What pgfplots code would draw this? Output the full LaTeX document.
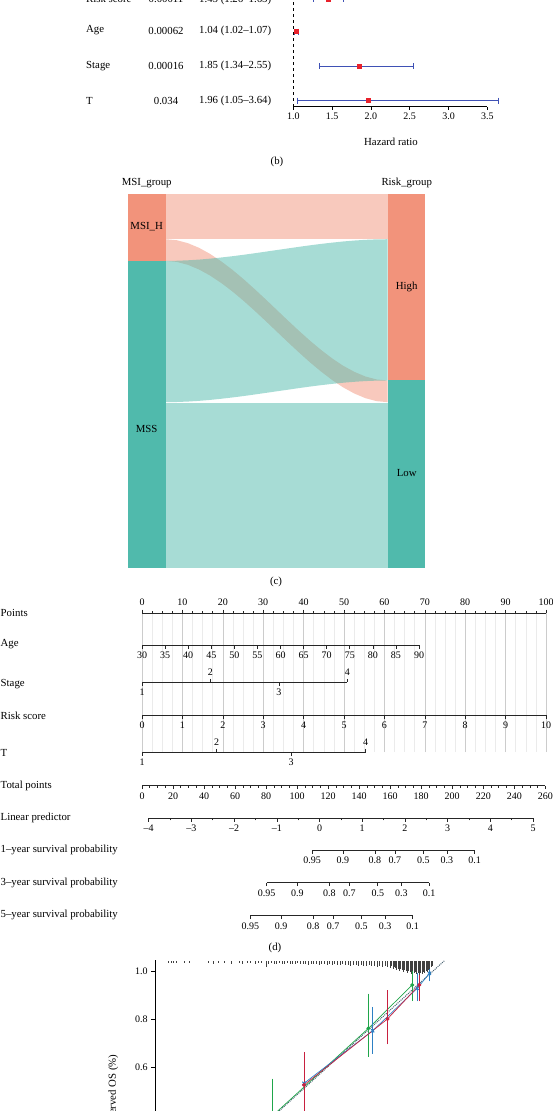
\documentclass[border=0pt]{standalone}
\usepackage{fontspec}
\setmainfont{Liberation Serif}
\usepackage{pgfplots}
\pgfplotsset{compat=1.18}
\definecolor{cibar}{HTML}{3F51B5}
\definecolor{hrred}{HTML}{E8212B}
\definecolor{nsal}{HTML}{F2937B}
\definecolor{nteal}{HTML}{50BAAC}
\definecolor{cred}{HTML}{C8203F}
\definecolor{cgreen}{HTML}{1FA64A}
\definecolor{cblue}{HTML}{2D80C4}
\definecolor{cideal}{HTML}{4A6272}
\newcommand\tf{\fontsize{10.8}{12.8}\selectfont}
\pgfplotsset{
  numfont/.style={tick label style={font=\fontsize{10}{12}\selectfont}, /pgf/number format/assume math mode=true},
  nomobase/.style={numfont, scale only axis, height=1pt, ymin=0, ymax=1, axis y line=none,
    tick align=outside, major tick length=3.5pt, minor tick length=2pt,
    tick style={black!85, line width=0.6pt}, axis line style={black!85, line width=0.6pt}, clip=false},
  nomobot/.style={nomobase, axis x line*=bottom, anchor=south west},
  nomotop/.style={nomobase, axis x line*=top, anchor=north west},
}
\tikzset{txt/.style={inner sep=0pt, font=\tf}}
\begin{document}
\begin{tikzpicture}[x=1pt,y=1pt]
\useasboundingbox (0,0) rectangle (553,-1111);
\clip (0,0) rectangle (553,-1111);

% ---------------- (b) forest plot ----------------
\node[txt, anchor=base west] at (86,-2.5) {Risk score};
\node[txt, anchor=base] at (166,-2.5) {0.00011};
\node[txt, anchor=base west] at (199,-2.5) {1.45 (1.26–1.65)};
\node[txt, anchor=west] at (86,-30.5) {Age};
\node[txt] at (166,-30.5) {0.00062};
\node[txt, anchor=west] at (199,-30.5) {1.04 (1.02–1.07)};
\node[txt, anchor=west] at (86,-66) {Stage};
\node[txt] at (166,-66) {0.00016};
\node[txt, anchor=west] at (199,-66) {1.85 (1.34–2.55)};
\node[txt, anchor=west] at (86,-100.5) {T};
\node[txt] at (166,-100.5) {0.034};
\node[txt, anchor=west] at (199,-100.5) {1.96 (1.05–3.64)};
\begin{axis}[numfont, scale only axis, x=77.6pt, y=34.5pt, xmin=1, xmax=3.5, ymin=0.826, ymax=4.3,
  axis x line*=bottom, axis y line=none, xtick={1,1.5,2,2.5,3,3.5}, tick align=outside, major tick length=3pt,
  xticklabel style={/pgf/number format/.cd, fixed, fixed zerofill, precision=1},
  axis line style={line width=0.8pt}, tick style={line width=0.8pt, black}, clip=false,
  at={(293.3pt,-106.7pt)}, anchor=south west]
\addplot[black, dashed, line width=0.8pt] coordinates {(1,0.826) (1,4.3)};
\addplot[cibar, line width=1pt, mark=|, mark size=3pt] coordinates {(1.26,3.95) (1.65,3.95)};
\addplot[cibar, line width=1pt, mark=|, mark size=3pt] coordinates {(1.02,3) (1.07,3)};
\addplot[cibar, line width=1pt, mark=|, mark size=3pt] coordinates {(1.34,2) (2.55,2)};
\addplot[cibar, line width=1pt, mark=|, mark size=3pt] coordinates {(1.05,1) (3.64,1)};
\addplot[only marks, mark=square*, mark size=2pt, hrred] coordinates {(1.45,3.95) (1.04,3) (1.85,2) (1.96,1)};
\end{axis}
\node[txt] at (391,-141.7) {Hazard ratio};
\node[txt] at (277,-162) {(b)};

% ---------------- (c) Sankey ----------------
\node[txt] at (146.7,-183) {MSI\_group};
\node[txt] at (406.7,-183) {Risk\_group};
\begin{axis}[scale only axis, x=222pt, y=3.737pt, xmin=-0.1685, xmax=1.1685, ymin=0, ymax=100,
  hide axis, clip=false, at={(128.3pt,-567.7pt)}, anchor=south west]
\addplot[fill=nsal, fill opacity=0.5, draw=none] coordinates {(0,87.9) (1,87.9) (1,100) (0,100)};
\addplot[fill=nsal, fill opacity=0.5, draw=none] coordinates {
(0,87.9) (0.05,87.63) (0.1,86.84) (0.15,85.60) (0.2,83.97) (0.25,81.99) (0.3,79.74) (0.35,77.25) (0.4,74.59) (0.45,71.83) (0.5,69.0) (0.55,66.17) (0.6,63.41) (0.65,60.75) (0.7,58.27) (0.75,56.01) (0.8,54.03) (0.85,52.40) (0.9,51.16) (0.95,50.37) (1,50.1)
(1,44.3) (0.95,44.57) (0.9,45.36) (0.85,46.60) (0.8,48.23) (0.75,50.21) (0.7,52.47) (0.65,54.95) (0.6,57.61) (0.55,60.37) (0.5,63.2) (0.45,66.03) (0.4,68.79) (0.35,71.45) (0.3,73.94) (0.25,76.19) (0.2,78.17) (0.15,79.80) (0.1,81.04) (0.05,81.83) (0,82.1)};
\addplot[fill=nteal, fill opacity=0.5, draw=none] coordinates {
(0,82.1) (0.05,82.14) (0.1,82.26) (0.15,82.45) (0.2,82.70) (0.25,83.01) (0.3,83.35) (0.35,83.73) (0.4,84.14) (0.45,84.57) (0.5,85.0) (0.55,85.43) (0.6,85.86) (0.65,86.27) (0.7,86.65) (0.75,86.99) (0.8,87.30) (0.85,87.55) (0.9,87.74) (0.95,87.86) (1,87.9)
(1,50.1) (0.95,50.06) (0.9,49.94) (0.85,49.75) (0.8,49.50) (0.75,49.19) (0.7,48.85) (0.65,48.47) (0.6,48.06) (0.55,47.63) (0.5,47.2) (0.45,46.77) (0.4,46.34) (0.35,45.93) (0.3,45.55) (0.25,45.21) (0.2,44.90) (0.15,44.65) (0.1,44.46) (0.05,44.34) (0,44.3)};
\addplot[fill=nteal, fill opacity=0.5, draw=none] coordinates {(0,0) (1,0) (1,44.0) (0,44.0)};
\addplot[fill=nsal, draw=none] coordinates {(-0.1685,82.1) (0,82.1) (0,100) (-0.1685,100)};
\addplot[fill=nteal, draw=none] coordinates {(-0.1685,0) (0,0) (0,82.1) (-0.1685,82.1)};
\addplot[fill=nsal, draw=none] coordinates {(1,50.1) (1.1685,50.1) (1.1685,100) (1,100)};
\addplot[fill=nteal, draw=none] coordinates {(1,0) (1.1685,0) (1.1685,50.1) (1,50.1)};
\end{axis}
\node[txt] at (146.7,-226.7) {MSI\_H};
\node[txt] at (146.7,-429) {MSS};
\node[txt] at (406.7,-286.7) {High};
\node[txt] at (406.7,-473) {Low};
\node[txt] at (276,-582) {(c)};

% ---------------- (d) nomogram ----------------
\begin{axis}[nomotop, height=139pt, x=4.04pt, xmin=0, xmax=100, xtick={0,10,...,100}, minor x tick num=3,
  xmajorgrids, xminorgrids, major grid style={gray!40, line width=0.6pt}, minor grid style={gray!16, line width=0.5pt},
  at={(142pt,-613pt)}]
\end{axis}
\begin{axis}[nomobot, x=4.617pt, xmin=30, xmax=90, xtick={30,35,...,90}, at={(142pt,-645.3pt)}]
\end{axis}
\begin{axis}[nomobot, x=68.43pt, xmin=1, xmax=4, xtick={1,3}, at={(142pt,-682.3pt)}]
\end{axis}
\begin{axis}[nomotop, x=68.43pt, xmin=1, xmax=4, xtick={2,4}, at={(142pt,-682.3pt)}]
\end{axis}
\begin{axis}[nomobot, x=40.4pt, xmin=0, xmax=10, xtick={0,1,...,10}, at={(142pt,-715pt)}]
\end{axis}
\begin{axis}[nomobot, x=74.57pt, xmin=1, xmax=4, xtick={1,3}, at={(142pt,-752.3pt)}]
\end{axis}
\begin{axis}[nomotop, x=74.57pt, xmin=1, xmax=4, xtick={2,4}, at={(142pt,-752.3pt)}]
\end{axis}
\begin{axis}[nomobot, x=1.5512pt, xmin=0, xmax=260, xtick={0,20,...,260}, minor x tick num=3, at={(142pt,-785.7pt)}]
\end{axis}
\begin{axis}[nomobot, x=42.7pt, xmin=-4, xmax=5, xtick={-4,-3,...,5}, xticklabels={–4,–3,–2,–1,0,1,2,3,4,5}, minor x tick num=1, at={(148.7pt,-818.3pt)}]
\end{axis}
\begin{axis}[nomobot, x=42.7pt, xmin=-0.174, xmax=3.630, xtick={-0.174,0.546,1.296,1.765,2.429,2.982,3.630},
  xticklabels={0.95,0.9,0.8,0.7,0.5,0.3,0.1}, at={(312.1pt,-850.3pt)}]
\end{axis}
\begin{axis}[nomobot, x=42.7pt, xmin=-1.238, xmax=2.566, xtick={-1.238,-0.518,0.232,0.701,1.365,1.918,2.566},
  xticklabels={0.95,0.9,0.8,0.7,0.5,0.3,0.1}, at={(266.6pt,-882.7pt)}]
\end{axis}
\begin{axis}[nomobot, x=42.7pt, xmin=-1.621, xmax=2.183, xtick={-1.621,-0.901,-0.151,0.318,0.982,1.535,2.183},
  xticklabels={0.95,0.9,0.8,0.7,0.5,0.3,0.1}, at={(250.3pt,-915.7pt)}]
\end{axis}
\node[txt, anchor=west] at (0.5,-613.3) {Points};
\node[txt, anchor=west] at (0.5,-644.3) {Age};
\node[txt, anchor=west] at (0.5,-684) {Stage};
\node[txt, anchor=west] at (0.5,-716) {Risk score};
\node[txt, anchor=west] at (0.5,-753.3) {T};
\node[txt, anchor=west] at (0.5,-785.7) {Total points};
\node[txt, anchor=west] at (0.5,-818.3) {Linear predictor};
\node[txt, anchor=west] at (0.5,-850) {1–year survival probability};
\node[txt, anchor=west] at (0.5,-882.7) {3–year survival probability};
\node[txt, anchor=west] at (0.5,-915) {5–year survival probability};
\node[txt] at (275,-948.3) {(d)};

% ---------------- (e) calibration (top part) ----------------
\begin{axis}[numfont, scale only axis, x=264pt, y=240pt, xmin=-0.05, xmax=1.05, ymin=-0.05, ymax=1.05,
  axis x line*=bottom, axis y line*=left, xtick=\empty, ytick={0.6,0.8,1},
  tick align=outside, major tick length=4pt, axis line style={line width=0.7pt}, tick style={line width=0.7pt, black},
  yticklabel style={/pgf/number format/.cd, fixed, fixed zerofill, precision=1},
  at={(155.1pt,-1223.7pt)}, anchor=south west]
\addplot[cideal, densely dotted, line width=1pt] coordinates {(0,0) (1.045,1.045)};
\addplot[cgreen, line width=0.7pt, mark=*, mark size=1.6pt,
  error bars/.cd, y dir=both, y explicit, error bar style={cgreen, line width=0.7pt}, error mark options={cgreen, mark size=2pt, line width=0.7pt}]
  coordinates {(0.395,0.40) += (0,0.146) -= (0,0.14) (0.758,0.764) += (0,0.136) -= (0,0.111) (0.924,0.945) += (0,0.055) -= (0,0.059)};
\addplot[cblue, line width=0.7pt, mark=x, mark size=2.2pt, mark options={line width=1pt},
  error bars/.cd, y dir=both, y explicit, error bar style={cblue, line width=0.7pt}, error mark options={cblue, mark size=2pt, line width=0.7pt}]
  coordinates {(0.514,0.535) += (0,0.01) -= (0,0.015) (0.774,0.754) += (0,0.091) -= (0,0.087) (0.943,0.931) += (0,0.055) -= (0,0.046) (0.989,0.993) += (0,0.011) -= (0,0.025)};
\addplot[cred, line width=0.7pt, mark=*, mark size=1.6pt,
  error bars/.cd, y dir=both, y explicit, error bar style={cred, line width=0.7pt}, error mark options={cred, mark size=2pt, line width=0.7pt}]
  coordinates {(0.514,0.528) += (0,0.129) -= (0,0.128) (0.830,0.803) += (0,0.111) -= (0,0.097) (0.951,0.945) += (0,0.055) -= (0,0.059)};
\end{axis}
\begin{axis}[scale only axis, x=264pt, y=1pt, xmin=-0.05, xmax=1.05, ymin=0, ymax=15, y dir=reverse,
  hide axis, at={(155.1pt,-961pt)}, anchor=north west]
\addplot[ycomb, black!75, line width=0.4pt, mark=none] coordinates {
(0.0,2) (0.01,2) (0.02,2) (0.03,2) (0.06,2) (0.08,2) (0.15,2) (0.17,3) (0.19,2) (0.21,2) (0.24,3) (0.27,2) (0.28,3) (0.30,2) (0.31,2) (0.33,3) (0.34,2) (0.35,2) (0.37,6) (0.38,3) (0.39,2) (0.40,3) (0.41,3) (0.42,2) (0.43,3) (0.44,3) (0.45,2) (0.46,3) (0.47,3) (0.48,3) (0.49,2) (0.50,3) (0.51,3) (0.52,3) (0.53,4) (0.54,3) (0.55,3) (0.56,3) (0.57,4) (0.58,3) (0.59,3) (0.60,4) (0.61,3) (0.62,4) (0.63,3) (0.64,4) (0.65,4) (0.66,3) (0.67,4) (0.68,4) (0.69,5) (0.70,4) (0.71,4) (0.72,5) (0.73,4) (0.74,5) (0.75,5) (0.76,4) (0.77,5) (0.78,5) (0.79,6) (0.80,5) (0.81,6) (0.82,5) (0.83,6) (0.84,7) (0.845,5) (0.85,8) (0.855,6) (0.86,7) (0.865,9) (0.87,8) (0.875,10) (0.88,8) (0.885,9) (0.89,11) (0.895,9) (0.90,10) (0.905,12) (0.91,10) (0.915,11) (0.92,13) (0.925,10) (0.93,12) (0.935,11) (0.94,13) (0.945,12) (0.95,14) (0.955,12) (0.96,13) (0.965,11) (0.97,12) (0.975,10) (0.98,11) (0.985,9) (0.99,8) (0.995,6) (1.0,5)};
\end{axis}
\node[txt, rotate=90, anchor=east] at (113.3,-1054.3) {Observed OS (\%)};
\end{tikzpicture}
\end{document}
